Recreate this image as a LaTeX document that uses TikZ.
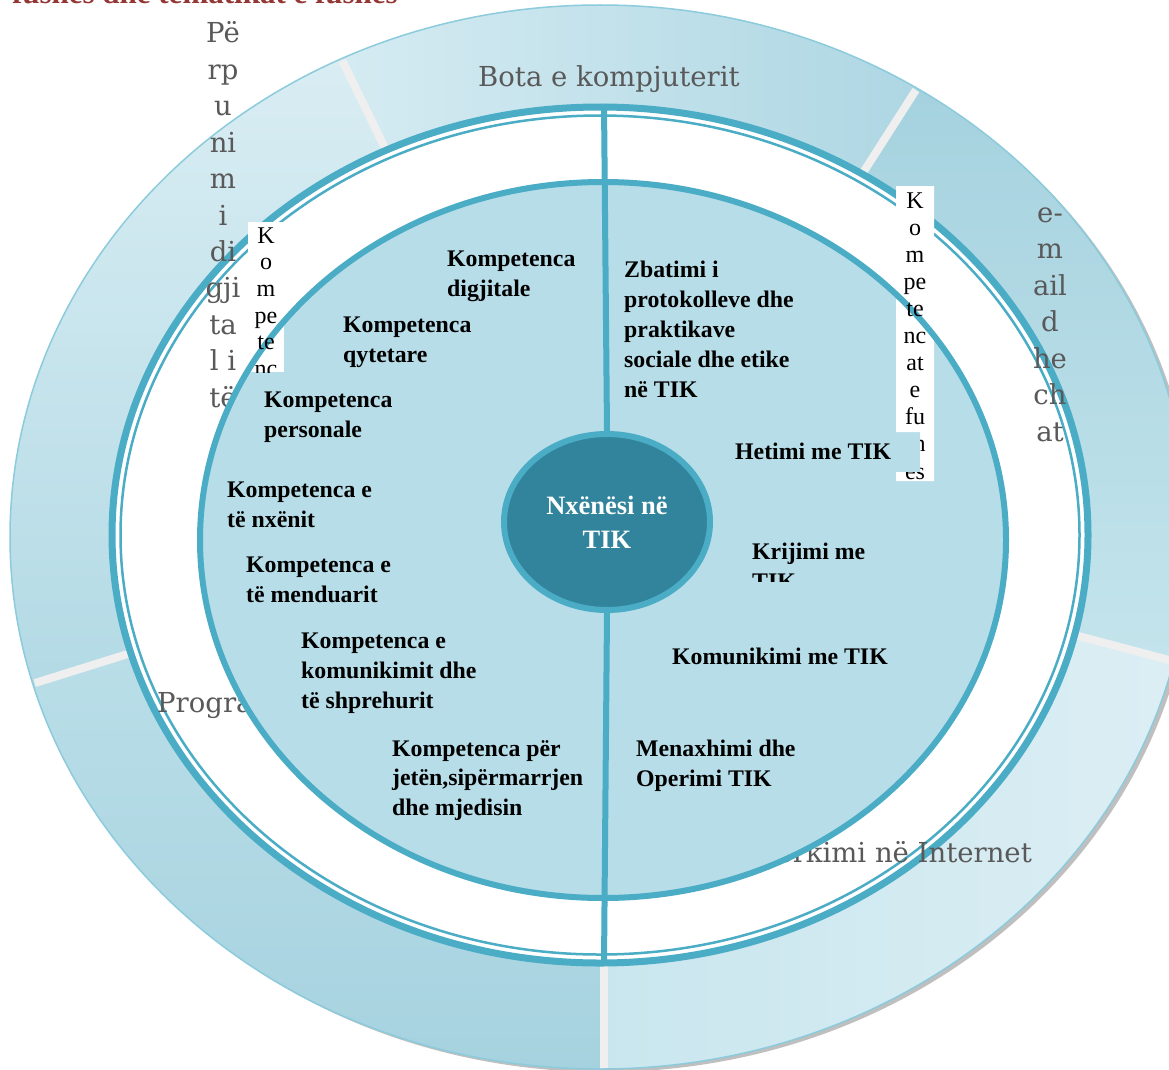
\documentclass[tikz,border=0pt]{standalone}
\usepackage{fontspec}
\setmainfont{Liberation Serif}
\newfontfamily\dvs{DejaVu Serif}
\usetikzlibrary{shapes.geometric}
\definecolor{ringblue}{HTML}{4BACC6}
\definecolor{diskfill}{HTML}{B7DDE8}
\definecolor{ctrfill}{HTML}{31849B}
\definecolor{graytxt}{HTML}{595959}
\definecolor{sepgray}{HTML}{EFEFEF}
\definecolor{rimline}{HTML}{8CCBDC}
\definecolor{redtxt}{HTML}{943634}
\definecolor{sa}{HTML}{D5EBF2}
\definecolor{sb}{HTML}{AED7E3}
\definecolor{sc}{HTML}{A5D2DF}
\definecolor{sd}{HTML}{C4E4EC}
\definecolor{se}{HTML}{C9E6EE}
\definecolor{sf}{HTML}{DCEEF4}
\definecolor{sg}{HTML}{B9DEE8}
\definecolor{sh}{HTML}{A6D2DF}
\definecolor{si}{HTML}{D9EDF3}
\definecolor{sj}{HTML}{B3DAE5}
\newcommand\ringseg[3]{%
  \shade[#3] plot[domain=#1:#2, samples=60, variable=\t] ({600+590*cos(\t)},{537+532*sin(\t)})
   -- plot[domain=#2:#1, samples=60, variable=\t] ({600+486*cos(\t)},{535+426*sin(\t)}) -- cycle;}
\newcommand\ringsep[1]{%
  \draw[sepline] ({600+486*cos(#1)},{535+426*sin(#1)}) -- ({600+588*cos(#1)},{537+530*sin(#1)});}
\newcommand\stack[6]{%
  \foreach \s [count=\i] in {#6} {\node[#2] (#1\i) at (#3,{#4+#5*(\i-1)}) {\s};}}
\begin{document}
\begin{tikzpicture}[x=1pt,y=-1pt,
  lab/.style={font=\fontsize{23.8}{30}\selectfont\bfseries, anchor=base west, inner sep=0pt},
  outer/.style={font=\dvs\fontsize{27.5}{36}\selectfont, text=graytxt, inner sep=0pt},
  outerc/.style={outer, anchor=base},
  colk/.style={font=\fontsize{24}{27}\selectfont, anchor=base, inner sep=0pt},
  sepline/.style={sepgray, line width=8pt},
  ringline/.style={ringblue, line width=6pt}]
\useasboundingbox (0,0) rectangle (1169,1070);
% shadow
\fill[gray!50] (604,540) ellipse [x radius=590pt, y radius=532pt];
% outer ring segments
\ringseg{244}{302.5}{left color=sa, right color=sb}
\ringseg{302.5}{373.5}{top color=sc, bottom color=sd}
\ringseg{373.5}{450}{left color=se, right color=sf}
\ringseg{450}{524}{top color=sg, bottom color=sh}
\ringseg{524}{604}{top color=si, bottom color=sj}
\draw[rimline, line width=1.5pt] (600,537) ellipse [x radius=590pt, y radius=532pt];
% separators
\ringsep{244}
\ringsep{302.5}
\ringsep{373.5}
\ringsep{524}
\draw[sepline] (604,966) -- (604,1068);
% middle white ring
\draw[ringblue, fill=white, line width=7pt] (600,535) ellipse [x radius=488pt, y radius=428pt];
\draw[ringblue, line width=2.5pt] (600,535) ellipse [x radius=479.5pt, y radius=419.5pt];
% header (cut off)
\node[font=\fontsize{31}{36}\selectfont\bfseries, text=redtxt, anchor=base east, inner sep=0pt] (hdr) at (398,3.5) {fushës dhe tematikat e fushës};
% outer labels
\node[outer, anchor=base west] (bota) at (478,87) {Bota e kompjuterit};
\node[outer, anchor=base east] (kerk) at (1032,862) {Kërkimi në Internet};
\node[outer, anchor=base west] (prog) at (157,712) {Programimi};
\stack{em}{outerc}{1050}{222}{36.5}{e-,m,ail,d,he,ch,at}
\begin{scope}
  \clip (190,10) rectangle (256,412);
  \stack{pd}{outerc}{223}{43}{36.4}{Pë,rp,u,ni,m,i,di,gji,ta,l i,të,dh,ën,av,e}
\end{scope}
% inner disk
\fill[diskfill] (603,540) ellipse [x radius=403pt, y radius=358pt];
\fill[white] (248,222) rectangle (284,372);
\fill[white] (896,186) rectangle (934,432) (920,432) rectangle (934,472) (896,472) rectangle (934,481);
\draw[ringline] (603,540) ellipse [x radius=403pt, y radius=358pt];
\begin{scope}
  \clip (240,215) rectangle (292,372);
  \stack{kk}{colk}{266}{243}{26.7}{K,o,m,pe,te,nc,at,ky,çe}
\end{scope}
\begin{scope}
  \clip (890,180) rectangle (940,432) (920,432) rectangle (940,472) (890,472) rectangle (940,481);
  \stack{kf}{colk}{915}{208}{27.1}{K,o,m,pe,te,nc,at,e,fu,sh,ës}
\end{scope}
% centre
\node[ellipse, draw=ringblue, line width=6pt, fill=ctrfill, minimum width=206pt, minimum height=176pt,
  inner sep=0pt, text=white, align=center, font=\fontsize{26.5}{34}\selectfont\bfseries] (learner) at (607,522) {Nxënësi në\\TIK};
\draw[ringline] (604,104) -- (learner.north);
\draw[ringline] (learner.south) -- (604,964);
% disk labels
\stack{a}{lab}{447}{266}{30}{Kompetenca,digjitale}
\stack{b}{lab}{343}{332}{30}{Kompetenca,qytetare}
\stack{c}{lab}{264}{407}{30}{Kompetenca,personale}
\stack{d}{lab}{227}{497}{30}{Kompetenca e,të nxënit}
\stack{e}{lab}{246}{572}{30}{Kompetenca e,të menduarit}
\stack{f}{lab}{301}{648}{30}{Kompetenca e,komunikimit dhe,të shprehurit}
\stack{g}{lab}{392}{756}{29.5}{Kompetenca për,{jetën,sipërmarrjen},dhe mjedisin}
\stack{h}{lab}{624}{277}{30}{Zbatimi i,protokolleve dhe,praktikave,sociale dhe etike,në TIK}
\stack{p}{lab}{735}{459}{30}{Hetimi me TIK}
\begin{scope}
  \clip (740,530) rectangle (900,581);
  \stack{q}{lab}{752}{559}{30}{Krijimi me,TIK}
\end{scope}
\stack{r}{lab}{672}{664}{30}{Komunikimi me TIK}
\stack{s}{lab}{636}{756}{30}{Menaxhimi dhe,Operimi TIK}
\end{tikzpicture}
\end{document}
